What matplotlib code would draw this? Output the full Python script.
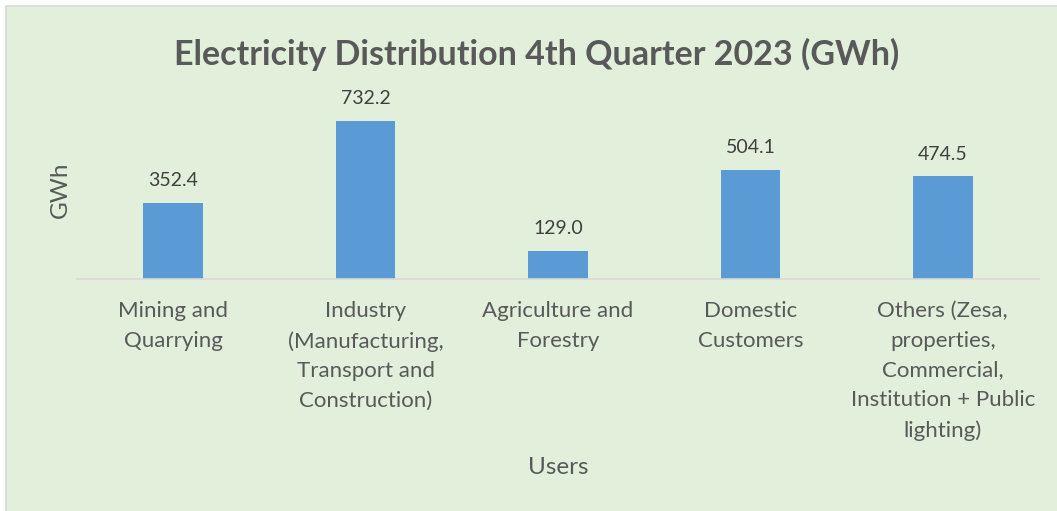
import matplotlib.pyplot as plt
from matplotlib.patches import Rectangle

categories = [
    "Mining and\nQuarrying",
    "Industry\n(Manufacturing,\nTransport and\nConstruction)",
    "Agriculture and\nForestry",
    "Domestic\nCustomers",
    "Others (Zesa,\nproperties,\nCommercial,\nInstitution + Public\nlighting)",
]
values = [352.4, 732.2, 129.0, 504.1, 474.5]

bg = "#E2EFDA"
txt = "#595959"
plt.rcParams["font.family"] = ["Lato", "DejaVu Sans"]

fig = plt.figure(figsize=(10.57, 5.11), dpi=100)
fig.patch.set_facecolor("white")
fig.patches.append(Rectangle((6 / 1057, -0.01), 1.02, (511 - 6) / 511 + 0.01,
                             transform=fig.transFigure, facecolor=bg,
                             edgecolor="#D9D9D9", linewidth=1.2, zorder=-1))

ax = fig.add_axes([77 / 1057, (511 - 279) / 511, (1039 - 77) / 1057, (279 - 106) / 511])
ax.set_facecolor("none")

x = range(len(categories))
bars = ax.bar(x, values, width=0.31, color="#5B9BD5", zorder=2)
for b, v in zip(bars, values):
    ax.annotate(f"{v:.1f}", (b.get_x() + b.get_width() / 2, v),
                xytext=(0, 10), textcoords="offset points",
                ha="center", va="bottom", fontsize=14, color="#404040")

ax.set_xlim(-0.5, len(categories) - 0.5)
ax.set_ylim(0, 800)
ax.set_yticks([])
ax.set_xticks(list(x))
ax.set_xticklabels(categories, fontsize=16, color=txt, linespacing=1.6, va="top")
ax.tick_params(axis="x", length=0, pad=16)
for s in ["top", "right", "left"]:
    ax.spines[s].set_visible(False)
ax.spines["bottom"].set_color("#D9D9D9")
ax.spines["bottom"].set_linewidth(1.2)

fig.text(558 / 1057, 1 - 467 / 511, "Users", ha="center", va="center",
         fontsize=17.5, color=txt)
fig.text(60 / 1057, 1 - 190 / 511, "GWh", ha="center", va="center",
         rotation=90, fontsize=17.5, color=txt)
fig.text(537 / 1057, 1 - 54 / 511, "Electricity Distribution 4th Quarter 2023 (GWh)",
         ha="center", va="center", fontsize=24.5, fontweight="bold", color=txt)

fig.savefig("out.png", dpi=100, facecolor=fig.get_facecolor())
